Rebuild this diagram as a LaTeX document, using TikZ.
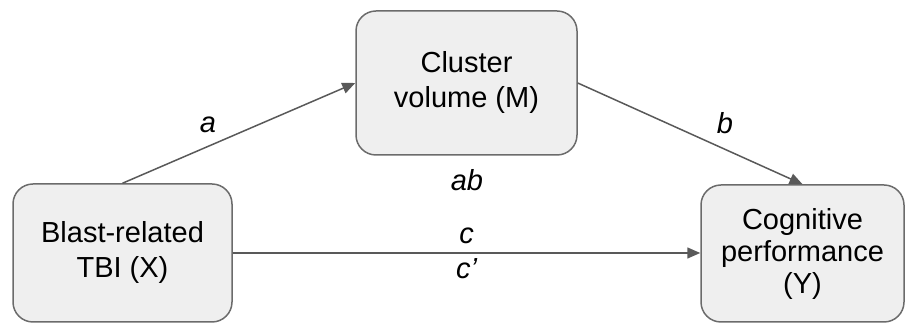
\documentclass[tikz,border=0pt]{standalone}
\usepackage{fontspec}
\setmainfont{Liberation Sans}
\usetikzlibrary{arrows.meta}
\definecolor{boxfill}{HTML}{EFEFEF}
\definecolor{boxline}{HTML}{6B6B6B}
\definecolor{arrowcol}{HTML}{595959}

\begin{document}
\begin{tikzpicture}[x=1pt,y=1pt,
		var/.style={draw=boxline, fill=boxfill, line width=1.5pt, rounded corners=20pt, align=center, inner sep=0pt, font=\fontsize{29}{35}\selectfont},
		link/.style={draw=arrowcol, line width=1.5pt, -{Triangle[length=13pt,width=11pt]}},
		coef/.style={font=\fontsize{29}{34}\selectfont\itshape, inner sep=2pt}]
				\useasboundingbox (0,0) rectangle (906,323);
				
				% the three variables
				\node[var, minimum width=219pt, minimum height=138pt] (X) at (122.5,70) {Blast-related\\TBI (X)};
				\node[var, minimum width=221pt, minimum height=144pt] (M) at (466.5,240) {Cluster\\volume (M)};
				\node[var, minimum width=203pt, minimum height=137pt, font=\fontsize{29}{32}\selectfont] (Y) at (802.5,69.5) {Cognitive\\performance\\(Y)};
				
				% paths
				\draw[link] (X.north) -- (M.west);
				\draw[link] (M.east) -- (Y.north);
				\draw[link] (X.east) -- (X.east -| Y.west)
					node[coef, midway, above=6pt] (c) {c}
					node[coef, midway, below=3pt] (cp) {c’};
				
				% coefficients
				\node[coef] (a) at (208,198) {a};
				\node[coef] (b) at (725,200) {b};
				\node[coef] (ab) at (467,143) {ab};
			\end{tikzpicture}
\end{document}
